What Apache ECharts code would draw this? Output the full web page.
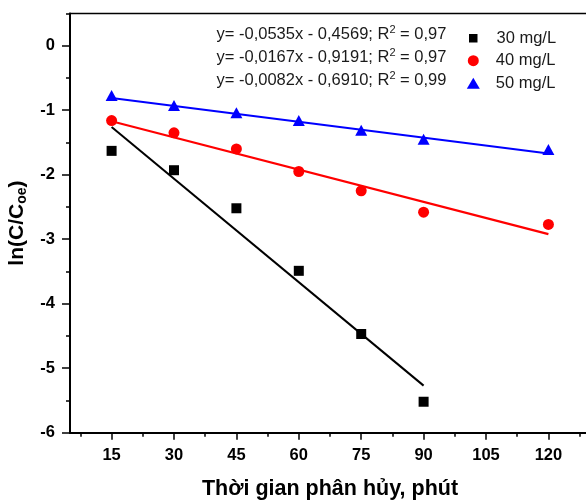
<!DOCTYPE html>
<html>
<head>
<meta charset="utf-8">
<script src="https://cdn.jsdelivr.net/npm/echarts@6/dist/echarts.min.js"></script>
<style>
  html, body { margin: 0; padding: 0; background: #fff; }
  #chart { width: 586px; height: 503px; }
</style>
</head>
<body>
<div id="chart"></div>
<script>
// thoi gian (phut)
const times = [15, 30, 45, 60, 75, 90, 120];
const y30 = [-1.63, -1.93, -2.52, -3.49, -4.47, -5.52];
const y40 = [-1.16, -1.35, -1.60, -1.95, -2.25, -2.58, -2.77];
const y50 = [-0.77, -0.925, -1.04, -1.16, -1.31, -1.45, -1.61];
// duong hoi quy (diem dau, diem cuoi)
const fit30 = [[15, -1.26], [90, -5.27]];
const fit40 = [[15, -1.17], [120, -2.92]];
const fit50 = [[15, -0.81], [120, -1.67]];
const xTicks = [15, 30, 45, 60, 75, 90, 105, 120];
const xMinor = [7.5, 22.5, 37.5, 52.5, 67.5, 82.5, 97.5, 112.5, 127.5];
const yTicks = [-6, -5, -4, -3, -2, -1, 0];
const yMinor = [-5.5, -4.5, -3.5, -2.5, -1.5, -0.5, 0.5];
const names = ['30 mg/L', '40 mg/L', '50 mg/L'];
const equations = [
  'y= -0,0535x - 0,4569; R{sup|2} = 0,97',
  'y= -0,0167x - 0,9191; R{sup|2} = 0,97',
  'y= -0,0082x - 0,6910; R{sup|2} = 0,99',
];

const font = '"Liberation Sans", Arial, sans-serif';
const pair = (ys) => ys.map((v, i) => [times[i], v]);

const chart = echarts.init(document.getElementById('chart'));

function legendFor(name, icon, w, h, left, cy, pad) {
  return {
    data: [{ name: name, icon: icon }],
    left: left,
    top: cy - h / 2,
    padding: 0,
    itemWidth: w,
    itemHeight: h,
    selectedMode: false,
    textStyle: {
      fontFamily: font,
      fontSize: 16.5,
      color: '#1a1a1a',
      padding: [0, 0, 0, pad],
    },
  };
}

chart.setOption({
  animation: false,
  textStyle: { fontFamily: font },
  grid: {
    left: 70,
    top: 13.5,
    bottom: 70.3,
    right: -4,
    outerBoundsMode: 'none',
    containLabel: false,
    show: true,
    borderColor: '#000',
    borderWidth: 1.5,
  },
  legend: [
    legendFor(names[0], 'rect', 8.5, 8.5, 469, 34, 14),
    legendFor(names[1], 'circle', 11, 11, 467.8, 57.7, 12),
    legendFor(names[2], 'triangle', 13, 11, 466.8, 80.2, 11),
  ],
  graphic: equations.map((t, i) => ({
    type: 'text',
    left: 216.5,
    top: 24 + i * 23.3,
    style: {
      text: t,
      fontFamily: font,
      fontSize: 16.5,
      lineHeight: 20,
      fill: '#1a1a1a',
      rich: {
        sup: { fontSize: 11, fontFamily: font, fill: '#1a1a1a', verticalAlign: 'top', lineHeight: 20, padding: [0, 0, 6, 0] },
      },
    },
  })),
  xAxis: [
    {
      type: 'value',
      min: 5,
      max: 130,
      position: 'bottom',
      name: 'Thời gian phân hủy, phút',
      nameLocation: 'middle',
      nameGap: 45,
      nameTextStyle: { fontSize: 21.5, fontWeight: 'bold', color: '#000', fontFamily: font },
      axisLine: { onZero: false, lineStyle: { color: '#000', width: 2 } },
      axisTick: { inside: false, length: 7, customValues: xTicks, lineStyle: { color: '#000', width: 1.5 } },
      axisLabel: { customValues: xTicks, margin: 14, fontSize: 16.5, fontWeight: 'bold', color: '#000', fontFamily: font },
      splitLine: { show: false },
    },
    {
      type: 'value',
      min: 5,
      max: 130,
      position: 'bottom',
      axisLine: { show: false, onZero: false },
      axisTick: { inside: false, length: 4, customValues: xMinor, lineStyle: { color: '#000', width: 1.5 } },
      axisLabel: { show: false },
      splitLine: { show: false },
    },
  ],
  yAxis: [
    {
      type: 'value',
      min: -6,
      max: 0.5,
      position: 'left',
      name: 'ln(C/C{sub|oe})',
      nameLocation: 'middle',
      nameGap: 35,
      nameTextStyle: {
        fontSize: 21,
        fontWeight: 'bold',
        color: '#000',
        fontFamily: font,
        lineHeight: 24,
        rich: {
          sub: { fontSize: 14, fontWeight: 'bold', color: '#000', fontFamily: font, verticalAlign: 'bottom', lineHeight: 14, padding: [6, 0, 0, 0] },
        },
      },
      axisLine: { onZero: false, lineStyle: { color: '#000', width: 2 } },
      axisTick: { inside: false, length: 8, customValues: yTicks, lineStyle: { color: '#000', width: 1.5 } },
      axisLabel: { customValues: yTicks, margin: 15, fontSize: 16.5, fontWeight: 'bold', color: '#000', fontFamily: font },
      splitLine: { show: false },
    },
    {
      type: 'value',
      min: -6,
      max: 0.5,
      position: 'left',
      axisLine: { show: false, onZero: false },
      axisTick: { inside: false, length: 4, customValues: yMinor, lineStyle: { color: '#000', width: 1.5 } },
      axisLabel: { show: false },
      splitLine: { show: false },
    },
  ],
  series: [
    {
      name: 'fit30',
      type: 'line',
      data: fit30,
      symbol: 'none',
      silent: true,
      lineStyle: { color: '#000', width: 2 },
      z: 2,
    },
    {
      name: 'fit40',
      type: 'line',
      data: fit40,
      symbol: 'none',
      silent: true,
      lineStyle: { color: '#ff0000', width: 2.2 },
      z: 2,
    },
    {
      name: 'fit50',
      type: 'line',
      data: fit50,
      symbol: 'none',
      silent: true,
      lineStyle: { color: '#0000ff', width: 2 },
      z: 2,
    },
    {
      name: names[0],
      type: 'scatter',
      data: pair(y30),
      symbol: 'rect',
      symbolSize: 10,
      itemStyle: { color: '#000', opacity: 1 },
      z: 3,
    },
    {
      name: names[1],
      type: 'scatter',
      data: pair(y40),
      symbol: 'circle',
      symbolSize: 11,
      itemStyle: { color: '#ff0000', opacity: 1 },
      z: 3,
    },
    {
      name: names[2],
      type: 'scatter',
      data: pair(y50),
      symbol: 'triangle',
      symbolSize: [12, 11],
      itemStyle: { color: '#0000ff', opacity: 1 },
      z: 3,
    },
  ],
});
</script>
</body>
</html>
